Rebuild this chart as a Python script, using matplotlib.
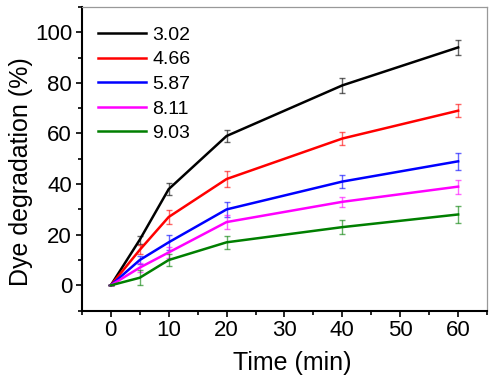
import matplotlib
matplotlib.use("Agg")
import matplotlib.pyplot as plt
from matplotlib.ticker import MultipleLocator
import matplotlib.colors as mcolors

plt.rcParams['font.family'] = ['Liberation Sans', 'DejaVu Sans']

time = [0, 5, 10, 20, 40, 60]
labels = ["3.02", "4.66", "5.87", "8.11", "9.03"]
colors = ["#000000", "#ff0000", "#0000ff", "#ff00ff", "#007f00"]
s302 = [0, 18, 38, 59, 79, 94]
s466 = [0, 14, 27, 42, 58, 69]
s587 = [0, 10, 17, 30, 41, 49]
s811 = [0, 7, 13, 25, 33, 39]
s903 = [0, 3, 10, 17, 23, 28]
e302 = [0, 1.5, 2.5, 2.2, 3.0, 3.0]
e466 = [0, 1.8, 2.8, 3.0, 2.5, 2.5]
e587 = [0, 1.7, 3.0, 3.0, 2.7, 3.3]
e811 = [0, 1.8, 2.0, 2.7, 2.0, 2.8]
e903 = [0, 3.0, 2.3, 2.5, 2.9, 3.3]
series = [s302, s466, s587, s811, s903]
errors = [e302, e466, e587, e811, e903]

fig = plt.figure(figsize=(4.96, 3.84), dpi=100)
ax = fig.add_axes([0.165, 0.191, 0.817, 0.791])

for lab, col, y, e in zip(labels, colors, series, errors):
    ecol = mcolors.to_rgba(col, 0.6)
    ax.errorbar(time, y, yerr=e, color=col, ecolor=ecol, elinewidth=1.0,
                capsize=2.5, capthick=1.0, lw=1.8, label=lab)

ax.set_xlim(-5, 65)
ax.set_ylim(-10, 110)
ax.xaxis.set_major_locator(MultipleLocator(10))
ax.xaxis.set_minor_locator(MultipleLocator(5))
ax.yaxis.set_major_locator(MultipleLocator(20))
ax.yaxis.set_minor_locator(MultipleLocator(10))
ax.tick_params(which='both', direction='out', top=False, right=False, width=1.2,
               labelsize=16, pad=3)
ax.tick_params(which='major', length=4)
ax.tick_params(which='minor', length=3)
for side in ['left', 'bottom']:
    ax.spines[side].set_linewidth(1.5)
for side in ['top', 'right']:
    ax.spines[side].set_linewidth(0.9)
    ax.spines[side].set_color('#999999')

ax.set_xlabel("Time (min)", fontsize=18, labelpad=7)
ax.set_ylabel("Dye degradation (%)", fontsize=18, labelpad=1)
ax.xaxis.label.set_x(0.518)
ax.yaxis.label.set_y(0.457)

handles, labs = ax.get_legend_handles_labels()
handles = [h[0] for h in handles]
ax.legend(handles, labs, loc='upper left', frameon=False, fontsize=14,
          handlelength=2.5, handletextpad=0.3, labelspacing=0.36,
          borderaxespad=0.2, bbox_to_anchor=(0.01, 0.975))

fig.savefig("out.png", dpi=100)
